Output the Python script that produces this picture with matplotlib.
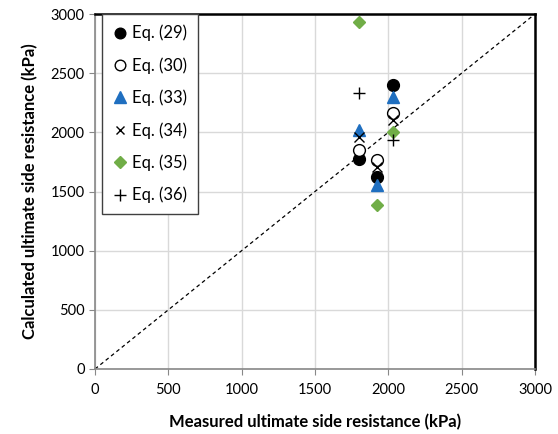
import numpy as np
import matplotlib
matplotlib.use("Agg")
import matplotlib.pyplot as plt

plt.rcParams['font.family'] = ['Lato', 'DejaVu Sans']

measured = [1800, 1920, 2030]
eq29 = [1772, 1620, 2400]
eq30 = [1851, 1767, 2161]
eq33 = [2020, 1555, 2302]
eq34 = [1964, 1710, 2105]
eq35 = [2932, 1386, 2006]
eq36 = [2336, np.nan, 1936]

labels = ["Eq. (29)", "Eq. (30)", "Eq. (33)", "Eq. (34)", "Eq. (35)", "Eq. (36)"]
ticks = [0, 500, 1000, 1500, 2000, 2500, 3000]

fig = plt.figure(figsize=(5.58, 4.34), dpi=100)
ax = fig.add_axes([95/558, 1-369/434, 440/558, 355/434])

ax.plot([0, 3000], [0, 3000], ls=(0, (3, 2.5)), color='black', lw=0.9, zorder=2)

ax.plot(measured, eq29, 'o', color='black', ms=8.5, label=labels[0], zorder=3)
ax.plot(measured, eq30, 'o', mfc='white', mec='black', mew=1.0, ms=8.5, label=labels[1], zorder=3)
ax.plot(measured, eq33, '^', color='#1f6fc0', ms=9, label=labels[2], zorder=3)
ax.plot(measured, eq34, 'x', color='black', mew=1.0, ms=6.5, label=labels[3], zorder=3)
ax.plot(measured, eq35, 'D', color='#70ad47', ms=6.5, label=labels[4], zorder=3)
ax.plot(measured, eq36, '+', color='black', mew=1.0, ms=9, label=labels[5], zorder=3)

ax.set_xlim(0, 3000)
ax.set_ylim(0, 3000)
ax.set_xticks(ticks)
ax.set_yticks(ticks)
ax.tick_params(labelsize=10.5, length=4, color='#888888', direction='out')
ax.tick_params(axis='x', pad=6)
ax.grid(True, color='#d9d9d9', lw=1)
ax.set_axisbelow(True)

for s in ['left', 'bottom']:
    ax.spines[s].set_color('#888888')
    ax.spines[s].set_linewidth(1.2)
for s in ['top', 'right']:
    ax.spines[s].set_color('black')
    ax.spines[s].set_linewidth(1.8)

ax.set_xlabel("Measured ultimate side resistance (kPa)", fontsize=12, fontweight='bold', labelpad=12)
ax.set_ylabel("Calculated ultimate side resistance (kPa)", fontsize=12, fontweight='bold', labelpad=9)

leg = ax.legend(loc='upper left', bbox_to_anchor=(0.016, 1.0), fontsize=12,
                frameon=True, fancybox=False, edgecolor='#404040', framealpha=1,
                handlelength=0.8, handletextpad=0.35, labelspacing=0.95, borderpad=0.65,
                borderaxespad=0.0, markerscale=0.9)
leg.get_frame().set_linewidth(1.0)

fig.savefig("out.png", dpi=100)
